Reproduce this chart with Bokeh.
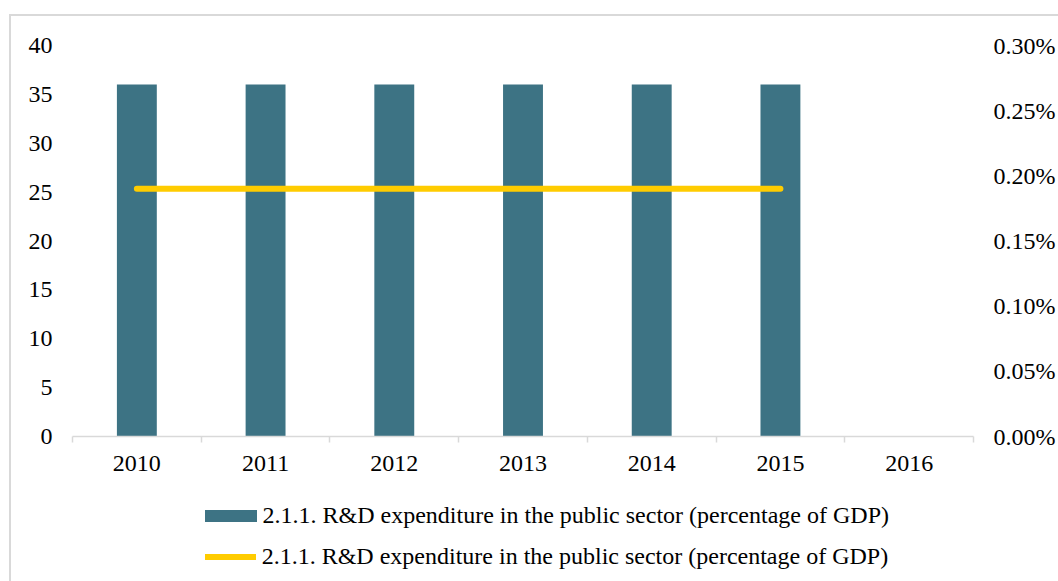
from bokeh.plotting import figure
from bokeh.layouts import column
from bokeh.models import (Range1d, LinearAxis, FixedTicker, NumeralTickFormatter,
                          Legend, LegendItem, ColumnDataSource)
from bokeh.embed import file_html
from bokeh.resources import INLINE

nan = float("nan")

# ---- data ----
years = ["2010", "2011", "2012", "2013", "2014", "2015", "2016"]
rd_bar_values = [36, 36, 36, 36, 36, 36, nan]
rd_pct_values = [0.0019, 0.0019, 0.0019, 0.0019, 0.0019, 0.0019, nan]
series_name = "2.1.1. R&D expenditure in the public sector (percentage of GDP)"
left_ticks = [0, 5, 10, 15, 20, 25, 30, 35, 40]
right_ticks = [0.0, 0.0005, 0.001, 0.0015, 0.002, 0.0025, 0.003]

FONT = "Liberation Serif"
FS = "24px"
TXT = "#000000"
GRAY = "#D9D9D9"
BAR = "#3D7384"
YEL = "#FFCC00"

xs = [i + 0.5 for i in range(len(years))]
src = ColumnDataSource(dict(x=xs, year=years, rd=rd_bar_values, pct=rd_pct_values))

W = 1047
H1 = 474
H2 = 91

p = figure(width=W, height=H1,
           x_range=Range1d(0, len(years)), y_range=Range1d(0, 40),
           output_backend="svg", toolbar_location=None,
           min_border_left=61, min_border_right=85,
           min_border_top=29, min_border_bottom=54)
p.outline_line_color = None
p.grid.visible = False
p.extra_y_ranges = {"pct": Range1d(0, 0.003)}

bars = p.vbar(x="x", top="rd", width=0.31, source=src,
              fill_color=BAR, line_color=None)
line = p.line(x="x", y="pct", source=src, y_range_name="pct",
              line_color=YEL, line_width=6, line_cap="round")

# x axis
xa = p.xaxis[0]
xa.ticker = FixedTicker(ticks=xs, minor_ticks=list(range(len(years) + 1)))
xa.major_label_overrides = {x: y for x, y in zip(xs, years)}
xa.major_tick_out = 0
xa.major_tick_in = 0
xa.minor_tick_out = 6
xa.minor_tick_in = 0
xa.minor_tick_line_color = GRAY
xa.minor_tick_line_width = 1.5
xa.axis_line_color = GRAY
xa.axis_line_width = 1.5
xa.major_label_standoff = 13

# left axis
ya = p.yaxis[0]
ya.ticker = FixedTicker(ticks=left_ticks)
ya.axis_line_color = None
ya.major_tick_line_color = None
ya.minor_tick_line_color = None
ya.major_tick_out = 0
ya.major_label_standoff = 20

# right axis
ra = LinearAxis(y_range_name="pct", ticker=FixedTicker(ticks=right_ticks),
                formatter=NumeralTickFormatter(format="0.00%"))
ra.axis_line_color = None
ra.major_tick_line_color = None
ra.minor_tick_line_color = None
ra.major_tick_out = 0
ra.major_label_standoff = 20
p.add_layout(ra, "right")

for ax in (xa, ya, ra):
    ax.major_label_text_font = FONT
    ax.major_label_text_font_size = FS
    ax.major_label_text_color = TXT

# ---- legend strip (second figure; its frame is aligned with the chart's) ----
q = figure(width=W, height=H2, x_range=Range1d(0, 1), y_range=Range1d(0, 1),
           output_backend="svg", toolbar_location=None,
           min_border=0, x_axis_type=None, y_axis_type=None)
q.outline_line_color = None
q.grid.visible = False
kbar = q.vbar(x="x", top="rd", width=0.31, source=src,
              fill_color=BAR, line_color=None, visible=False)
kline = q.line(x="x", y="pct", source=src,
               line_color=YEL, line_width=6, line_cap="round", visible=False)

def mk_legend(items, loc, gw, gh, standoff):
    return Legend(items=items, location=loc, glyph_width=gw, glyph_height=gh,
                  label_standoff=standoff, padding=0, margin=0, spacing=0,
                  border_line_color=None, background_fill_alpha=0,
                  label_text_font=FONT, label_text_font_size=FS,
                  label_text_color=TXT)

leg1 = mk_legend([LegendItem(label=series_name, renderers=[kbar])],
                 (125.5, 52.5), 65, 15, 0)
leg2 = mk_legend([LegendItem(label=series_name, renderers=[kline])],
                 (132.7, 11.5), 51, 15, 6)
q.add_layout(leg1)
q.add_layout(leg2)

layout = column(p, q, spacing=0)
layout.styles = {"margin-left": "9px", "margin-top": "14px",
                 "border-left": "2px solid #D9D9D9", "border-top": "2px solid #D9D9D9"}

open("out.html", "w").write(file_html(layout, INLINE))
